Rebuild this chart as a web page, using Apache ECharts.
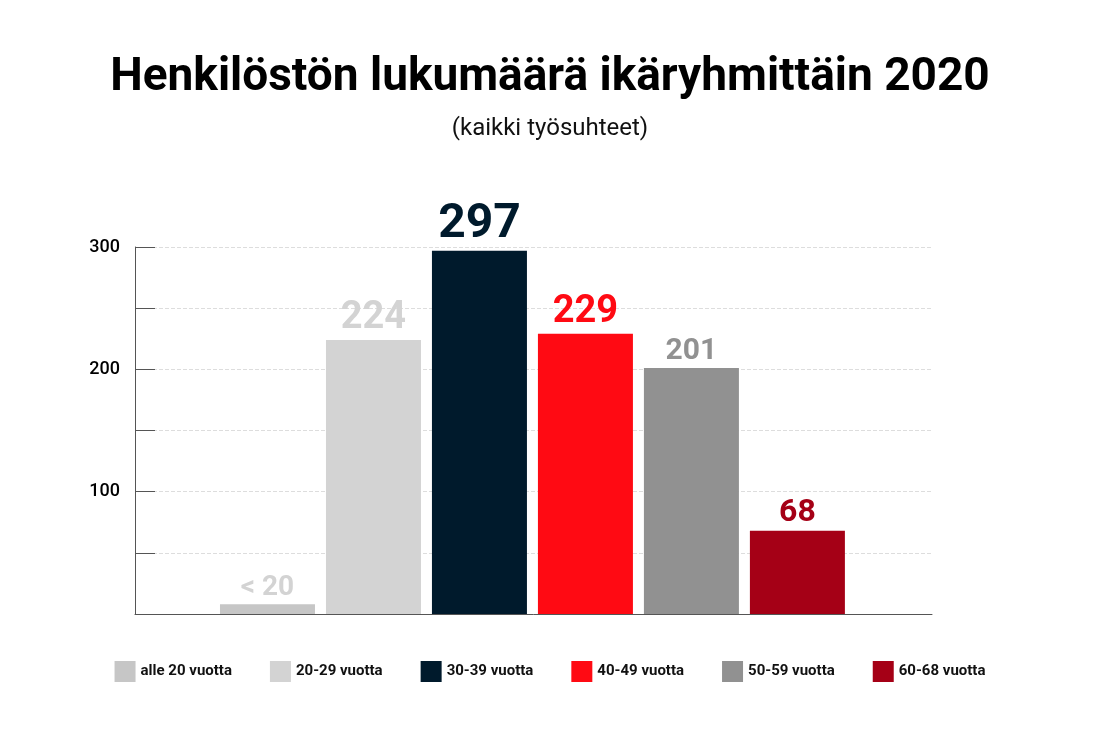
<!DOCTYPE html>
<html>
<head>
<meta charset="utf-8">
<script src="https://cdn.jsdelivr.net/npm/echarts@6/dist/echarts.min.js"></script>
<style>html,body{margin:0;background:#fff}#main{width:1100px;height:743px}</style>
</head>
<body>
<div id="main"></div>
<script>
// data
var categories = ['alle 20 vuotta', '20-29 vuotta', '30-39 vuotta', '40-49 vuotta', '50-59 vuotta', '60-68 vuotta'];
var values = [8, 224, 297, 229, 201, 68];
var labels = ['< 20', '224', '297', '229', '201', '68'];
var colors = ['#c6c6c6', '#d3d3d3', '#001a2c', '#ff0a13', '#919191', '#a50016'];
var labelSizes = [28, 38, 48, 38, 30, 32];

var myChart = echarts.init(document.getElementById('main'));
var series = categories.map(function (c, i) {
    return {
        name: c,
        type: 'bar',
        barWidth: 95,
        barGap: '-100%',
        itemStyle: { color: colors[i] },
        label: {
            show: true, position: 'top', distance: 2,
            formatter: labels[i],
            color: i === 0 ? '#d3d3d3' : colors[i],
            fontSize: labelSizes[i], fontWeight: 'bold',
            fontFamily: 'Roboto'
        },
        data: [[i, values[i]]]
    };
});

var option = {
    animation: false,
    color: colors,
    title: {
        text: 'Henkilöstön lukumäärä ikäryhmittäin 2020',
        subtext: '(kaikki työsuhteet)',
        left: 'center', top: 50, itemGap: 16,
        textStyle: { fontSize: 46, fontWeight: 'bold', color: '#000', fontFamily: 'Roboto' },
        subtextStyle: { fontSize: 24, color: '#111', fontFamily: 'Roboto' }
    },
    legend: {
        bottom: 56, left: 'center', itemWidth: 21, itemHeight: 21, itemGap: 38,
        icon: 'rect',
        textStyle: { fontSize: 15, fontWeight: 'bold', color: '#111', fontFamily: 'Roboto' },
        data: categories
    },
    grid: { left: 135, right: 168, top: 247, bottom: 129 },
    xAxis: {
        type: 'value', min: -1.25, max: 6.27,
        axisLine: { lineStyle: { color: '#555' } },
        axisTick: { show: false }, axisLabel: { show: false }, splitLine: { show: false }
    },
    yAxis: {
        type: 'value', min: 0, max: 300, interval: 50,
        axisLine: { show: true, onZero: false, lineStyle: { color: '#555' } },
        axisTick: { show: true, inside: true, length: 20, lineStyle: { color: '#555' } },
        axisLabel: {
            margin: 15, fontSize: 18, fontWeight: 500, color: '#000', fontFamily: 'Roboto',
            formatter: function (v) { return (v > 0 && v % 100 === 0) ? v : ''; }
        },
        splitLine: { show: true, lineStyle: { color: '#ddd', type: 'dashed' } }
    },
    series: series
};
myChart.setOption(option);
</script>
</body>
</html>
